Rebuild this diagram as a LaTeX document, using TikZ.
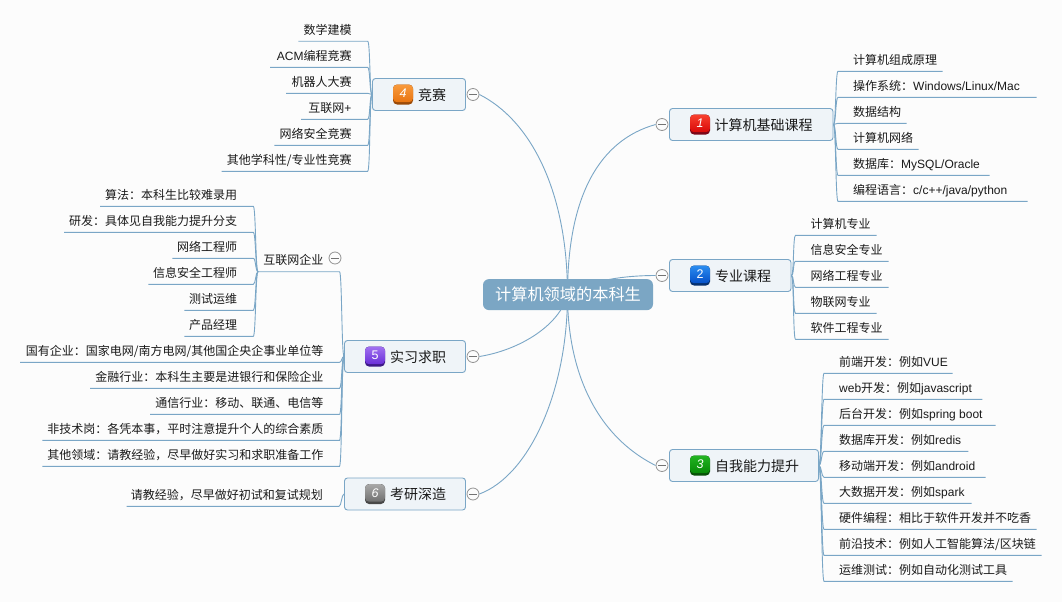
\documentclass[tikz,border=0pt]{standalone}
\usepackage{fontspec}
\setmainfont{Noto Sans CJK SC}
\newfontfamily\lat{Liberation Sans}
\usetikzlibrary{calc}
\definecolor{linec}{HTML}{7AA6C6}
\definecolor{boxfill}{HTML}{EFF4F8}
\definecolor{inkc}{HTML}{1A1A1A}
\definecolor{bgc}{HTML}{FCFCFC}
\definecolor{rootc}{HTML}{7BA6C4}
\tikzset{
  conn/.style={draw=linec,line width=0.9pt},
  leaftext/.style={inner sep=0pt,text=inkc,font=\fontsize{12}{12}\selectfont},
  grpbox/.style={draw=linec,fill=boxfill,line width=0.9pt,rounded corners=3pt,minimum height=32pt,inner sep=0pt},
  grptext/.style={inner sep=0pt,text=inkc,font=\fontsize{14}{14}\selectfont,anchor=base west},
  rootbox/.style={fill=rootc,rounded corners=6pt,minimum width=170pt,minimum height=31pt,inner sep=0pt,text=white,font=\fontsize{16.2}{16.2}\selectfont},
  collapse/.style={circle,draw=black!42,fill=bgc,line width=0.8pt,minimum size=12pt,inner sep=0pt,
    path picture={\draw[black!55,line width=0.8pt] ($(path picture bounding box.west)+(2.2pt,0)$) -- ($(path picture bounding box.east)+(-2.2pt,0)$);}},
  badgebase/.style={rounded corners=4pt,minimum width=20pt,minimum height=20pt,inner sep=0pt},
  badgetop/.style={rounded corners=4pt,minimum width=20pt,minimum height=17.5pt,inner sep=0pt,text=white,font=\lat\fontsize{12.5}{12.5}\selectfont},
}
% right-hand leaf: parent, name, line start x, line y, line end x, text
\newcommand\rleaf[6]{%
  \node[leaftext,anchor=base west] (#2) at (#3+15,#4-6.8) {#6};
  \coordinate (#2a) at (#3,#4); \coordinate (#2b) at (#5,#4);
  \draw[conn] (#1) .. controls +(2.5,0) and +(-2.5,0) .. (#2a) -- (#2b);}
% left-hand leaf: parent, name, line start x (right), line y, line end x (left), text
\newcommand\lleaf[6]{%
  \node[leaftext,anchor=base east] (#2) at (#3-16,#4-6.8) {#6};
  \coordinate (#2a) at (#3,#4); \coordinate (#2b) at (#5,#4);
  \draw[conn] (#1) .. controls +(-2.5,0) and +(2.5,0) .. (#2a) -- (#2b);}
% group: name, x1, x2, yc, collapse x, text x, text
\newcommand\grp[7]{%
  \node[grpbox,minimum width={#3-#2}] (#1) at ({(#2+#3)/2},#4) {};
  \node[grptext] (#1t) at (#6,#4+5.8) {#7};
  \node[collapse] (#1c) at (#5,#4) {};}
% badge: name, x, y, top colour, bottom colour, base colour, digit
\newcommand\badge[7]{%
  \definecolor{#1ct}{HTML}{#4}\definecolor{#1cb}{HTML}{#5}\definecolor{#1cd}{HTML}{#6}%
  \node[badgebase,fill=#1cd] (#1b) at (#2,#3) {};
  \node[badgetop,top color=#1ct,bottom color=#1cb,anchor=north] (#1d) at (#2,#3-10) {#7};}
\begin{document}
\begin{tikzpicture}[x=1pt,y=-1pt]
\useasboundingbox[fill=bgc] (0,0) rectangle (1062,602);
% groups
\grp{g1}{669.5}{833}{124.5}{662}{714.5}{计算机基础课程}
\grp{g2}{669.5}{791}{275.5}{662}{715}{专业课程}
\grp{g3}{669.5}{818.5}{465.5}{662}{715}{自我能力提升}
\grp{g4}{372.5}{465.5}{94.5}{473}{418}{竞赛}
\grp{g5}{344.5}{465.5}{356.5}{473}{390}{实习求职}
\grp{g6}{344.5}{465.5}{494}{473}{390}{考研深造}
% root
\coordinate (rc) at (567.5,294.5);
\draw[conn] (rc) .. controls (567.5,195) and (600,140) .. (g1c.west);
\draw[conn] (rc) .. controls (590,280) and (625,275.5) .. (g2c.west);
\draw[conn] (rc) .. controls (567.5,370) and (595,435) .. (g3c.west);
\draw[conn] (rc) .. controls (567.5,190) and (530,120) .. (g4c.east);
\draw[conn] (rc) .. controls (560,325) and (520,350) .. (g5c.east);
\draw[conn] (rc) .. controls (567.5,390) and (530,475) .. (g6c.east);
\node[rootbox] (root) at (568,294.6) {计算机领域的本科生};
% badges
\badge{g1}{700}{124.5}{F8402E}{D80808}{7A0618}{\textit{1}}
\badge{g2}{700}{275.5}{2A8CF0}{0550C8}{06306E}{2}
\badge{g3}{700}{465.5}{22B422}{068A06}{065006}{\textit{3}}
\badge{g4}{403}{94.5}{F89A3C}{E87410}{9A4A08}{\textit{4}}
\badge{g5}{375}{356.5}{A070F0}{6A30D8}{3E1A88}{5}
\badge{g6}{375}{494}{A8A8A8}{707070}{484848}{\textit{6}}
% group 1
\rleaf{g1.east}{a1}{838}{71.3}{942.7}{计算机组成原理}
\rleaf{g1.east}{a2}{838}{97.3}{1036.7}{操作系统：{\lat Windows/Linux/Mac}}
\rleaf{g1.east}{a3}{838}{123.3}{906.7}{数据结构}
\rleaf{g1.east}{a4}{838}{149.3}{918.7}{计算机网络}
\rleaf{g1.east}{a5}{838}{175.3}{989.7}{数据库：{\lat MySQL/Oracle}}
\rleaf{g1.east}{a6}{838}{201.3}{1027.7}{编程语言：{\lat c/c++/java/python}}
% group 2
\rleaf{g2.east}{b1}{795.5}{235.3}{876.7}{计算机专业}
\rleaf{g2.east}{b2}{795.5}{261.3}{888.7}{信息安全专业}
\rleaf{g2.east}{b3}{795.5}{287.3}{888.7}{网络工程专业}
\rleaf{g2.east}{b4}{795.5}{313.3}{876.7}{物联网专业}
\rleaf{g2.east}{b5}{795.5}{339.3}{888.7}{软件工程专业}
% group 3
\rleaf{g3.east}{c1}{824}{373.3}{952.7}{前端开发：例如{\lat VUE}}
\rleaf{g3.east}{c2}{824}{399.3}{982.3}{{\lat web}开发：例如{\lat javascript}}
\rleaf{g3.east}{c3}{824}{425.3}{995.7}{后台开发：例如{\lat spring boot}}
\rleaf{g3.east}{c4}{824}{451.3}{968.3}{数据库开发：例如{\lat redis}}
\rleaf{g3.east}{c5}{824}{477.3}{985.7}{移动端开发：例如{\lat android}}
\rleaf{g3.east}{c6}{824}{503.3}{971.7}{大数据开发：例如{\lat spark}}
\rleaf{g3.east}{c7}{824}{529.3}{1036.7}{硬件编程：相比于软件开发并不吃香}
\rleaf{g3.east}{c8}{824}{555.3}{1041.7}{前沿技术：例如人工智能算法/区块链}
\rleaf{g3.east}{c9}{824}{581.3}{1012.7}{运维测试：例如自动化测试工具}
% group 4
\lleaf{g4.west}{d1}{367.7}{41.3}{298.3}{数学建模}
\lleaf{g4.west}{d2}{367.7}{67.3}{270}{{\lat ACM}编程竞赛}
\lleaf{g4.west}{d3}{367.7}{93.3}{286}{机器人大赛}
\lleaf{g4.west}{d4}{367.7}{119.3}{301}{互联网{\lat +}}
\lleaf{g4.west}{d5}{367.7}{145.3}{274.3}{网络安全竞赛}
\lleaf{g4.west}{d6}{367.7}{171.3}{221.7}{其他学科性/专业性竞赛}
% group 5
\lleaf{g5.west}{hu}{339.5}{271.7}{258}{互联网企业}
\node[collapse] (huc) at (335,258) {};
\lleaf{hub}{e1}{253.3}{206.3}{100}{算法：本科生比较难录用}
\lleaf{hub}{e2}{253.3}{232.3}{64}{研发：具体见自我能力提升分支}
\lleaf{hub}{e3}{253.3}{258.3}{172.3}{网络工程师}
\lleaf{hub}{e4}{253.3}{284.3}{148.3}{信息安全工程师}
\lleaf{hub}{e5}{253.3}{310.3}{184.3}{测试运维}
\lleaf{hub}{e6}{253.3}{336.3}{184.3}{产品经理}
\lleaf{g5.west}{f1}{339.5}{362.3}{20}{国有企业：国家电网/南方电网/其他国企央企事业单位等}
\lleaf{g5.west}{f2}{339.5}{388.3}{90}{金融行业：本科生主要是进银行和保险企业}
\lleaf{g5.west}{f3}{339.5}{414.3}{150}{通信行业：移动、联通、电信等}
\lleaf{g5.west}{f4}{339.5}{440.3}{42.3}{非技术岗：各凭本事，平时注意提升个人的综合素质}
\lleaf{g5.west}{f5}{339.5}{466.3}{42.3}{其他领域：请教经验，尽早做好实习和求职准备工作}
% group 6
\lleaf{g6.west}{h1}{339}{506.3}{126.7}{请教经验，尽早做好初试和复试规划}
\end{tikzpicture}
\end{document}
